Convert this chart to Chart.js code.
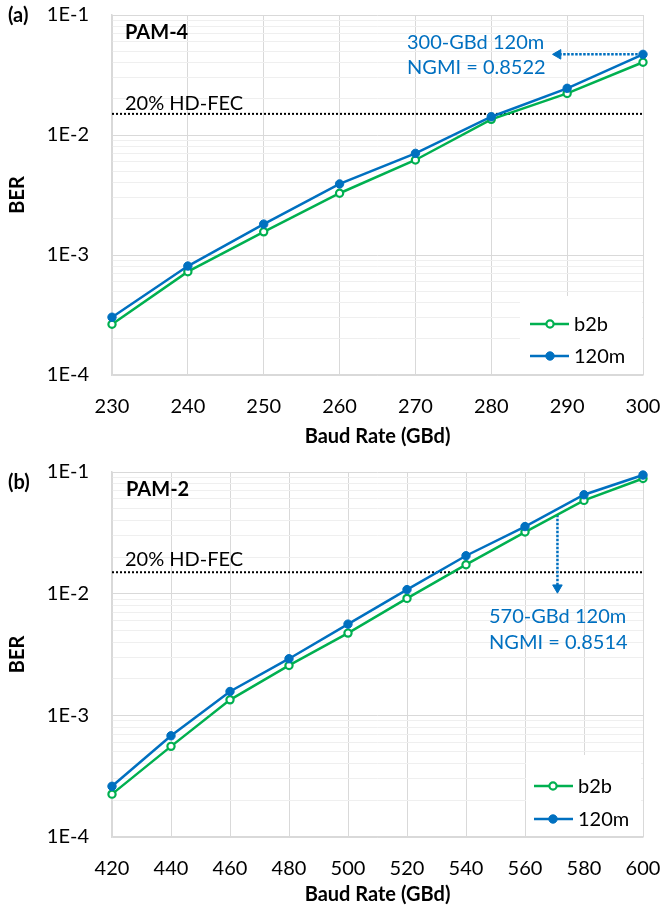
<!DOCTYPE html>
<html><head><meta charset="utf-8">
<script src="https://cdn.jsdelivr.net/npm/chart.js@4.4.1/dist/chart.umd.min.js"></script>
<style>
html,body{margin:0;padding:0;background:#fff;}
#wrap{position:relative;width:663px;height:910px;}
.panel{position:absolute;left:0;width:663px;height:455px;}
</style></head><body>
<div id="wrap">
<div class="panel" style="top:0"><canvas id="ca" width="663" height="455"></canvas></div>
<div class="panel" style="top:455px"><canvas id="cb" width="663" height="455"></canvas></div>
</div>
<script>
// ---- data ----
const baudA = [230, 240, 250, 260, 270, 280, 290, 300];
const berA_b2b = [2.65e-4, 7.26e-4, 1.56e-3, 3.27e-3, 6.19e-3, 1.35e-2, 2.22e-2, 4.04e-2];
const berA_120m = [3.03e-4, 8.09e-4, 1.81e-3, 3.91e-3, 7.03e-3, 1.42e-2, 2.45e-2, 4.70e-2];
const baudB = [420, 440, 460, 480, 500, 520, 540, 560, 580, 600];
const berB_b2b = [2.25e-4, 5.56e-4, 1.34e-3, 2.57e-3, 4.74e-3, 9.14e-3, 1.73e-2, 3.21e-2, 5.84e-2, 8.85e-2];
const berB_120m = [2.61e-4, 6.79e-4, 1.57e-3, 2.92e-3, 5.62e-3, 1.08e-2, 2.05e-2, 3.56e-2, 6.50e-2, 9.44e-2];
const hdFec = 1.5e-2;
const seriesNames = ['b2b', '120m'];
const yDecades = [1e-4, 1e-3, 1e-2, 1e-1];
const yTickLabels = ['1E-4', '1E-3', '1E-2', '1E-1'];
const xRangeA = [230, 300], xStepA = 10;
const xRangeB = [420, 600], xStepB = 20;
const arrowA_x = [299.3, 288.8], arrowA_y = [4.7e-2, 4.7e-2];
const arrowB_x = [571, 571], arrowB_y = [4.45e-2, 1.12e-2];
const xTitle = 'Baud Rate (GBd)', yTitle = 'BER';

// ---- style ----
const FONT = 'Lato, "Open Sans", sans-serif';
const BLUE = '#0070C0', GREEN = '#00B050';
const GRID = '#d9d9d9', MINOR = '#efefef';
const CLEAR = 'rgba(0,0,0,0)';

function yGridValues() {
  const out = [];
  yDecades.forEach((d, i) => {
    for (let m = 1; m <= 9; m++) {
      if (i === yDecades.length - 1 && m > 1) break;
      out.push(parseFloat((m * d).toPrecision(3)));
    }
  });
  return out;
}
function majorIndex(v) { return yDecades.findIndex(d => Math.abs(d - v) / d < 1e-6); }

function panelPlugin(p) {
  return {
    id: 'panel_' + p.tag,
    beforeDatasetsDraw(chart) {
      const ctx = chart.ctx, L = p.legend;
      ctx.save();
      ctx.fillStyle = '#fff';
      ctx.fillRect(L.x, L.y, L.w, L.h);
      const styles = [
        {c: GREEN, fill: '#fff'},
        {c: BLUE, fill: BLUE}
      ];
      seriesNames.forEach((name, i) => {
        const y = L.items[i];
        ctx.strokeStyle = styles[i].c; ctx.lineWidth = 2.5;
        ctx.beginPath(); ctx.moveTo(L.line[0], y); ctx.lineTo(L.line[1], y); ctx.stroke();
        ctx.beginPath(); ctx.arc(L.marker, y, i === 0 ? 3.6 : 4.2, 0, Math.PI * 2);
        ctx.fillStyle = styles[i].fill; ctx.fill();
        ctx.lineWidth = i === 0 ? 2.2 : 1; ctx.stroke();
        ctx.fillStyle = '#000'; ctx.font = '20px ' + FONT;
        ctx.textBaseline = 'middle'; ctx.textAlign = 'left';
        ctx.fillText(name, L.text, y + 1);
      });
      ctx.restore();
    },
    afterDraw(chart) {
      const ctx = chart.ctx;
      ctx.save();
      ctx.textBaseline = 'middle'; ctx.textAlign = 'left';
      p.texts.forEach(t => {
        ctx.font = (t.bold ? 'bold ' : '') + '20px ' + FONT;
        ctx.fillStyle = t.color || '#000';
        ctx.fillText(t.t, t.x, t.y);
      });
      ctx.restore();
    }
  };
}

function makePanel(id, p) {
  const xy = (xs, ys) => xs.map((x, i) => ({x, y: ys[i]}));
  return new Chart(document.getElementById(id), {
    type: 'line',
    data: {
      datasets: [
        {label: seriesNames[0], data: xy(p.baud, p.b2b), borderColor: GREEN, borderWidth: 2.5,
         pointRadius: 3.6, pointBorderWidth: 2.2, pointBackgroundColor: '#fff', pointBorderColor: GREEN,
         order: 1, clip: false},
        {label: seriesNames[1], data: xy(p.baud, p.m120), borderColor: BLUE, borderWidth: 2.5,
         pointRadius: 4.2, pointBorderWidth: 1, pointBackgroundColor: BLUE, pointBorderColor: BLUE,
         order: 0, clip: false},
        {label: 'hdfec', data: xy(p.xr, [hdFec, hdFec]), borderColor: '#000', borderWidth: 2,
         borderDash: [2, 2], pointRadius: 0, order: 3},
        {label: 'arrow', data: xy(p.ax, p.ay), borderColor: BLUE, borderWidth: 2.5,
         borderDash: [2.5, 1.5], pointRadius: [0, 5.5], pointStyle: 'triangle', pointRotation: p.rot,
         pointBackgroundColor: BLUE, pointBorderColor: BLUE, pointBorderWidth: 1, order: 2, clip: false}
      ]
    },
    options: {
      responsive: false, animation: false,
      layout: {padding: {top: p.padTop, right: 20, bottom: 0, left: 0}},
      plugins: {legend: {display: false}, tooltip: {enabled: false}},
      elements: {line: {tension: 0}},
      scales: {
        x: {
          type: 'linear', min: p.xr[0], max: p.xr[1],
          afterFit: s => { s.height = p.xh; s.paddingLeft = 0; s.paddingRight = 0; },
          grid: {color: GRID, drawTicks: true, tickLength: 20, tickColor: CLEAR, lineWidth: 1},
          border: {color: GRID, width: 1.5},
          ticks: {stepSize: p.step, padding: 0, color: '#000', font: {family: FONT, size: 20}},
          title: {display: true, text: xTitle, color: '#000', font: {family: FONT, size: 20, weight: 'bold'},
                  padding: {top: 0, bottom: p.titlePad}}
        },
        y: {
          type: 'logarithmic', min: yDecades[0], max: yDecades[yDecades.length - 1],
          afterFit: s => { s.width = 112; s.paddingTop = 0; s.paddingBottom = 0; },
          afterBuildTicks: s => { s.ticks = yGridValues().map(v => ({value: v})); },
          grid: {color: c => (c.tick && majorIndex(c.tick.value) >= 0) ? GRID : MINOR,
                 drawTicks: true, tickLength: 23, tickColor: CLEAR, lineWidth: 1},
          border: {color: GRID, width: 1.5},
          ticks: {autoSkip: false, padding: 0, color: '#000', font: {family: FONT, size: 20},
                  callback: v => { const i = majorIndex(v); return i >= 0 ? yTickLabels[i] : ''; }},
          title: {display: true, text: yTitle, color: '#000', font: {family: FONT, size: 20, weight: 'bold'},
                  padding: {top: 6, bottom: 0}}
        }
      }
    },
    plugins: [panelPlugin(p)]
  });
}

makePanel('ca', {
  tag: 'a', baud: baudA, b2b: berA_b2b, m120: berA_120m, xr: xRangeA, step: xStepA,
  ax: arrowA_x, ay: arrowA_y, rot: 270, padTop: 15, xh: 80, titlePad: 6,
  legend: {x: 520, y: 296, w: 122, h: 78, items: [324, 356], line: [530, 569], marker: 550, text: 574},
  texts: [
    {t: '(a)', x: 8, y: 16, bold: true},
    {t: 'PAM-4', x: 125, y: 33, bold: true},
    {t: '20% HD-FEC', x: 125, y: 104},
    {t: '300-GBd 120m', x: 407, y: 43, color: BLUE},
    {t: 'NGMI = 0.8522', x: 407, y: 68, color: BLUE}
  ]
});
makePanel('cb', {
  tag: 'b', baud: baudB, b2b: berB_b2b, m120: berB_120m, xr: xRangeB, step: xStepB,
  ax: arrowB_x, ay: arrowB_y, rot: 180, padTop: 17, xh: 73, titlePad: 3,
  legend: {x: 526, y: 300, w: 115, h: 81, items: [331, 364], line: [534, 573], marker: 553, text: 578},
  texts: [
    {t: '(b)', x: 8, y: 28, bold: true},
    {t: 'PAM-2', x: 126, y: 35, bold: true},
    {t: '20% HD-FEC', x: 125, y: 105},
    {t: '570-GBd 120m', x: 489, y: 162, color: BLUE},
    {t: 'NGMI = 0.8514', x: 489, y: 188, color: BLUE}
  ]
});
</script>
</body></html>
